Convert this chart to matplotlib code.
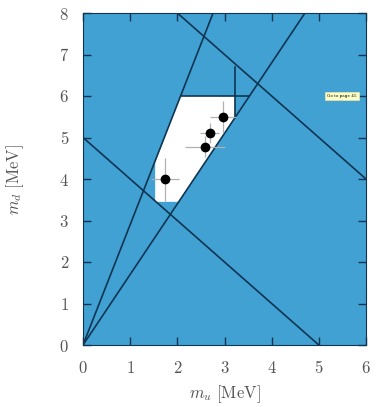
import numpy as np
import matplotlib.pyplot as plt
from matplotlib.patches import Polygon

plt.rcParams['mathtext.fontset'] = 'cm'
plt.rcParams['font.family'] = 'DejaVu Serif'

# quark mass ratio lines m_d = r * m_u and sum lines m_u + m_d = s
ratios = [2.9, 1.7]
sums = [5.0, 10.0]

# allowed window
mu_min, mu_max = 1.53, 3.22
md_min, md_max = 3.45, 6.0
md_cut_top = 6.7

# lattice points with errors
mu_pts = [1.74, 2.58, 2.69, 2.97]
md_pts = [3.99, 4.78, 5.11, 5.49]
mu_err = [0.30, 0.42, 0.20, 0.28]
md_err = [0.52, 0.25, 0.25, 0.38]

blue = '#41a1d3'
dark = '#0f3552'

fig = plt.figure(figsize=(3.77, 4.07), dpi=100)
ax = fig.add_axes([83 / 377, 1 - 345 / 407, 283 / 377, 332 / 407])
ax.set_facecolor(blue)

r_hi, r_lo = ratios
region = [
    (mu_min, md_min),
    (md_min / r_lo, md_min),
    (mu_max, r_lo * mu_max),
    (mu_max, md_max),
    (md_max / r_hi, md_max),
    (mu_min, r_hi * mu_min),
]
ax.add_patch(Polygon(region, closed=True, facecolor='white', edgecolor='none', zorder=1))

x = np.linspace(0, 6, 200)
for r in ratios:
    ax.plot(x, r * x, color=dark, lw=1.2, zorder=2)
for s in sums:
    ax.plot(x, s - x, color=dark, lw=1.2, zorder=2)

ax.plot([md_max / r_hi, md_max / r_lo], [md_max, md_max], color=dark, lw=1.2, zorder=2)
ax.plot([mu_max, mu_max], [r_lo * mu_max, md_cut_top], color=dark, lw=1.2, zorder=2)

ax.errorbar(mu_pts, md_pts, xerr=mu_err, yerr=md_err, fmt='o', color='black',
            ms=6, ecolor='#b0b0b0', elinewidth=0.9, capsize=0, zorder=4)

ax.set_xlim(0, 6)
ax.set_ylim(0, 8)
ax.set_xticks(range(7))
ax.set_yticks(range(9))
ax.set_xticklabels([f'${i}$' for i in range(7)])
ax.set_yticklabels([f'${i}$' for i in range(9)])
ax.tick_params(direction='in', length=6, width=1, color=dark, top=True, right=True,
               labelsize=12, labelcolor='#555555')
ax.tick_params(axis='x', pad=10.5)
ax.tick_params(axis='y', pad=10)
for sp in ax.spines.values():
    sp.set_color(dark)
    sp.set_linewidth(0.8)

ax.set_xlabel(r'$m_u\ [\mathrm{MeV}]$', fontsize=12, color='#555555', labelpad=5)
ax.set_ylabel(r'$m_d\ [\mathrm{MeV}]$', fontsize=12, color='#555555', labelpad=24)

fig.text(342 / 377, 1 - 96 / 407, 'Go to page 45', fontsize=3, ha='center', va='center',
         bbox=dict(boxstyle='square,pad=0.5', facecolor='#ffffc8', edgecolor='#e8e8a0', lw=0.5))

fig.savefig('out.png', dpi=100)
